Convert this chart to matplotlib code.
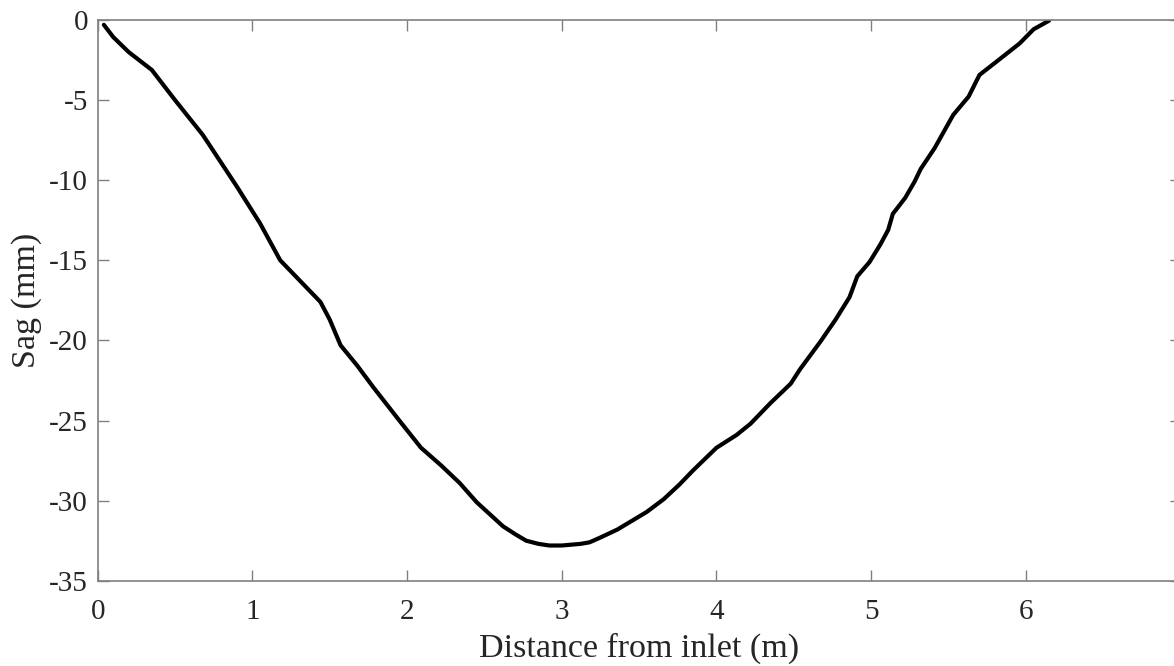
import matplotlib
matplotlib.use("Agg")
import matplotlib.pyplot as plt

distance_m = [0.04, 0.10, 0.20, 0.35, 0.50, 0.68, 0.90, 1.05, 1.18, 1.31, 1.44, 1.50,
              1.57, 1.68, 1.78, 1.95, 2.09, 2.22, 2.34, 2.45, 2.62, 2.70, 2.77, 2.85,
              2.92, 3.00, 3.12, 3.18, 3.25, 3.36, 3.55, 3.66, 3.76, 3.85, 4.00, 4.13,
              4.22, 4.35, 4.48, 4.54, 4.67, 4.77, 4.86, 4.91, 4.99, 5.06, 5.11, 5.14,
              5.22, 5.28, 5.32, 5.41, 5.53, 5.63, 5.70, 5.83, 5.96, 6.05, 6.15]
sag_mm = [-0.3, -1.06, -2.0, -3.12, -5.0, -7.18, -10.4, -12.7, -15.0, -16.3, -17.6, -18.7,
          -20.3, -21.6, -22.9, -25.0, -26.7, -27.8, -28.9, -30.1, -31.6, -32.1, -32.5, -32.7,
          -32.8, -32.8, -32.7, -32.6, -32.3, -31.8, -30.7, -29.9, -29.0, -28.1, -26.7, -25.9,
          -25.2, -23.9, -22.7, -21.8, -20.1, -18.7, -17.3, -16.0, -15.1, -14.0, -13.1, -12.1,
          -11.1, -10.1, -9.3, -8.0, -5.93, -4.78, -3.43, -2.45, -1.46, -0.58, -0.04]

x_ticks = [0, 1, 2, 3, 4, 5, 6]
y_ticks = [-35, -30, -25, -20, -15, -10, -5, 0]

plt.rcParams['font.family'] = ['Liberation Serif', 'DejaVu Serif']
plt.rcParams['axes.unicode_minus'] = False
text_color = '#262626'
spine_color = '#808080'

fig = plt.figure(figsize=(11.74, 6.66), dpi=100)
ax = fig.add_axes([0.0832, 0.128, 0.9224, 0.842])
ax.plot(distance_m, sag_mm, color='black', linewidth=3.0, solid_joinstyle='round',
        solid_capstyle='round')
ax.set_xlim(0, 7)
ax.set_ylim(-35, 0)
ax.set_xticks(x_ticks)
ax.set_yticks(y_ticks)
ax.tick_params(direction='in', length=8, width=1, colors=spine_color,
               labelcolor=text_color, labelsize=21, top=True, right=True)
ax.tick_params(axis='x', pad=13)
ax.tick_params(axis='y', pad=7)
for s in ax.spines.values():
    s.set_color(spine_color)
    s.set_linewidth(1.2)
ax.set_xlabel('Distance from inlet (m)', fontsize=24.5, color=text_color, labelpad=6)
ax.set_ylabel('Sag (mm)', fontsize=24.5, color=text_color, labelpad=5)

fig.savefig('out.png', dpi=100)
